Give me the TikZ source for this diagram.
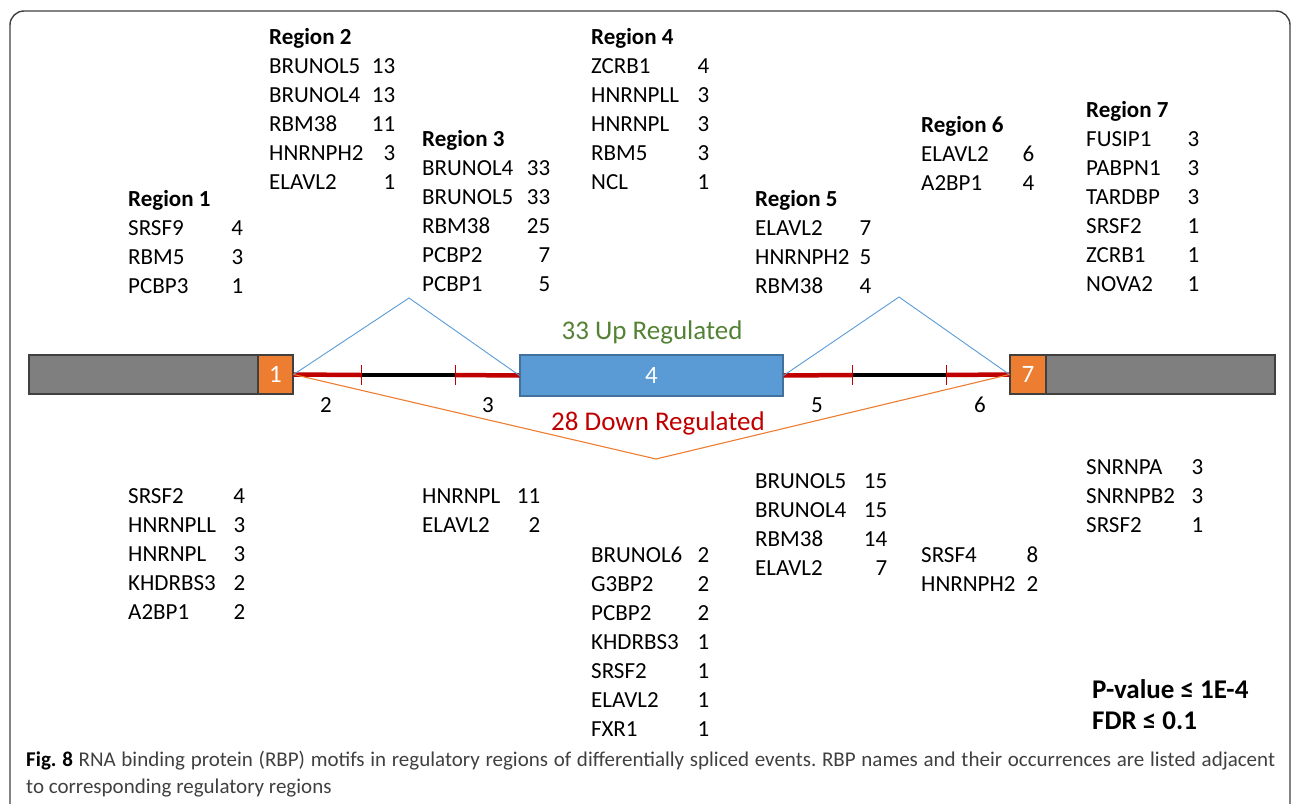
\documentclass[tikz,border=0pt]{standalone}
\usepackage{fontspec}
\setmainfont{Carlito}
\usetikzlibrary{calc}
\frenchspacing

\definecolor{utrgray}{HTML}{7F7F7F}
\definecolor{exonorange}{HTML}{ED7D31}
\definecolor{exonblue}{HTML}{5B9BD5}
\definecolor{edgeblue}{HTML}{41719C}
\definecolor{intronred}{HTML}{C00000}
\definecolor{upgreen}{HTML}{548235}
\definecolor{captiongray}{HTML}{404040}

% width of one "name  count" row
\newdimen\rbpw
\newcommand{\rbp}[2]{\makebox[\rbpw][s]{#1\hfill#2}}

\tikzset{
  list/.style={anchor=north west, inner sep=0pt, align=left,
    font=\fontsize{23}{29}\selectfont, execute at begin node={\global\rbpw=#1pt}},
  utr/.style={draw=black!75, fill=utrgray, line width=1.2pt, minimum width=229,
    minimum height=39, inner sep=0pt},
  exonbox/.style={draw=black!75, fill=#1, line width=1.2pt, minimum height=39,
    inner sep=0pt, text=white, font=\fontsize{25}{28}\selectfont},
  intron/.style={line width=4.5pt, intronred},
  splitmark/.style={line width=1pt, intronred},
  regnum/.style={font=\fontsize{23}{28}\selectfont}
}

\begin{document}
\begin{tikzpicture}[x=1pt, y=-1pt]
    \useasboundingbox (0,0) rectangle (1292,803);

    % outer frame (cut at the bottom)
    \draw[black!75, line width=1.4pt, rounded corners=14]
        (10,820) -- (10,11) -- (1290,11) -- (1290,820);

    % gene model
    \node[utr] (utrL) at (143.5,374.5) {};
    \node[exonbox=exonorange, minimum width=35] (ex1) at (275.5,374.5) {1};
    \node[exonbox=exonblue, draw=edgeblue, minimum width=263, minimum height=41] (ex4) at (651.5,375.5) {4};
    \node[exonbox=exonorange, minimum width=36] (ex7) at (1028,374.5) {7};
    \node[utr] (utrR) at (1160.5,374.5) {};

    % region borders inside the introns
    \coordinate (s2) at (361,375);
    \coordinate (s3) at (455,375);
    \coordinate (s5) at (852,375);
    \coordinate (s6) at (946,375);

    % apex of the splice lines
    \coordinate (upL) at (409,298);
    \coordinate (upR) at (899,297);
    \coordinate (down) at (656,459);

    % introns
    \draw[intron] (ex1.east) -- (s2);
    \draw[intron, black] (s2) -- (s3);
    \draw[intron] (s3) -- (ex4.west);
    \draw[intron] (ex4.east) -- (s5);
    \draw[intron, black] (s5) -- (s6);
    \draw[intron] (s6) -- (ex7.west);
    \foreach \s in {s2,s3,s5,s6}
        \draw[splitmark] ([yshift=10pt]\s) -- ([yshift=-10pt]\s);

    % splicing
    \draw[exonblue, line width=0.9pt] (ex1.east) -- (upL) -- (ex4.west);
    \draw[exonblue, line width=0.9pt] (ex4.east) -- (upR) -- (ex7.west);
    \draw[exonorange, line width=1.1pt] (ex1.east) -- (down) -- (ex7.west);

    % region numbers
    \node[regnum] (n2) at (326,405) {2};
    \node[regnum] (n3) at (488,405) {3};
    \node[regnum] (n5) at (817,405) {5};
    \node[regnum] (n6) at (980,405) {6};

    \node[text=upgreen, font=\fontsize{27}{30}\selectfont] (up) at (652,332) {33 Up Regulated};
    \node[text=intronred, font=\fontsize{27}{30}\selectfont] (dn) at (658,423) {28 Down Regulated};

    % RBPs of the up regulated events
    \node[list=115] (r1up) at (128,190.5) {\textbf{Region 1}\\
        \rbp{SRSF9}{4}\\ \rbp{RBM5}{3}\\ \rbp{PCBP3}{1}};
    \node[list=126] (r2up) at (269,28.5) {\textbf{Region 2}\\
        \rbp{BRUNOL5}{13}\\ \rbp{BRUNOL4}{13}\\ \rbp{RBM38}{11}\\
        \rbp{HNRNPH2}{3}\\ \rbp{ELAVL2}{1}};
    \node[list=128] (r3up) at (422,130.5) {\textbf{Region 3}\\
        \rbp{BRUNOL4}{33}\\ \rbp{BRUNOL5}{33}\\ \rbp{RBM38}{25}\\
        \rbp{PCBP2}{7}\\ \rbp{PCBP1}{5}};
    \node[list=118] (r4up) at (591,28.5) {\textbf{Region 4}\\
        \rbp{ZCRB1}{4}\\ \rbp{HNRNPLL}{3}\\ \rbp{HNRNPL}{3}\\
        \rbp{RBM5}{3}\\ \rbp{NCL}{1}};
    \node[list=116] (r5up) at (755,190.5) {\textbf{Region 5}\\
        \rbp{ELAVL2}{7}\\ \rbp{HNRNPH2}{5}\\ \rbp{RBM38}{4}};
    \node[list=113] (r6up) at (921,116.5) {\textbf{Region 6}\\
        \rbp{ELAVL2}{6}\\ \rbp{A2BP1}{4}};
    \node[list=113] (r7up) at (1086,101.5) {\textbf{Region 7}\\
        \rbp{FUSIP1}{3}\\ \rbp{PABPN1}{3}\\ \rbp{TARDBP}{3}\\
        \rbp{SRSF2}{1}\\ \rbp{ZCRB1}{1}\\ \rbp{NOVA2}{1}};

    % RBPs of the down regulated events
    \node[list=117] (r1dn) at (128,488.5) {\rbp{SRSF2}{4}\\
        \rbp{HNRNPLL}{3}\\ \rbp{HNRNPL}{3}\\ \rbp{KHDRBS3}{2}\\ \rbp{A2BP1}{2}};
    \node[list=118] (r3dn) at (422,488.5) {\rbp{HNRNPL}{11}\\ \rbp{ELAVL2}{2}};
    \node[list=118] (r4dn) at (591,546.5) {\rbp{BRUNOL6}{2}\\
        \rbp{G3BP2}{2}\\ \rbp{PCBP2}{2}\\ \rbp{KHDRBS3}{1}\\
        \rbp{SRSF2}{1}\\ \rbp{ELAVL2}{1}\\ \rbp{FXR1}{1}};
    \node[list=132] (r5dn) at (755,473.5) {\rbp{BRUNOL5}{15}\\
        \rbp{BRUNOL4}{15}\\ \rbp{RBM38}{14}\\ \rbp{ELAVL2}{7}};
    \node[list=117] (r6dn) at (921,546.5) {\rbp{SRSF4}{8}\\ \rbp{HNRNPH2}{2}};
    \node[list=117] (r7dn) at (1086,459.5) {\rbp{SNRNPA}{3}\\
        \rbp{SNRNPB2}{3}\\ \rbp{SRSF2}{1}};

    % thresholds
    \node[anchor=north west, inner sep=0pt, align=left,
        font=\bfseries\fontsize{27}{31}\selectfont] (stats) at (1092,679)
        {P-value ≤ 1E-4\\ FDR ≤ 0.1};

    % caption
    \node[anchor=north west, inner sep=0pt, align=left, text=captiongray,
        font=\fontsize{21}{27}\selectfont] (caption) at (26,751)
        {\makebox[1249pt][s]{\textcolor{black}{\textbf{Fig. 8}} RNA binding protein (RBP) motifs in regulatory regions of differentially spliced events. RBP names and their occurrences are listed adjacent}\\
        to corresponding regulatory regions};
\end{tikzpicture}
\end{document}
